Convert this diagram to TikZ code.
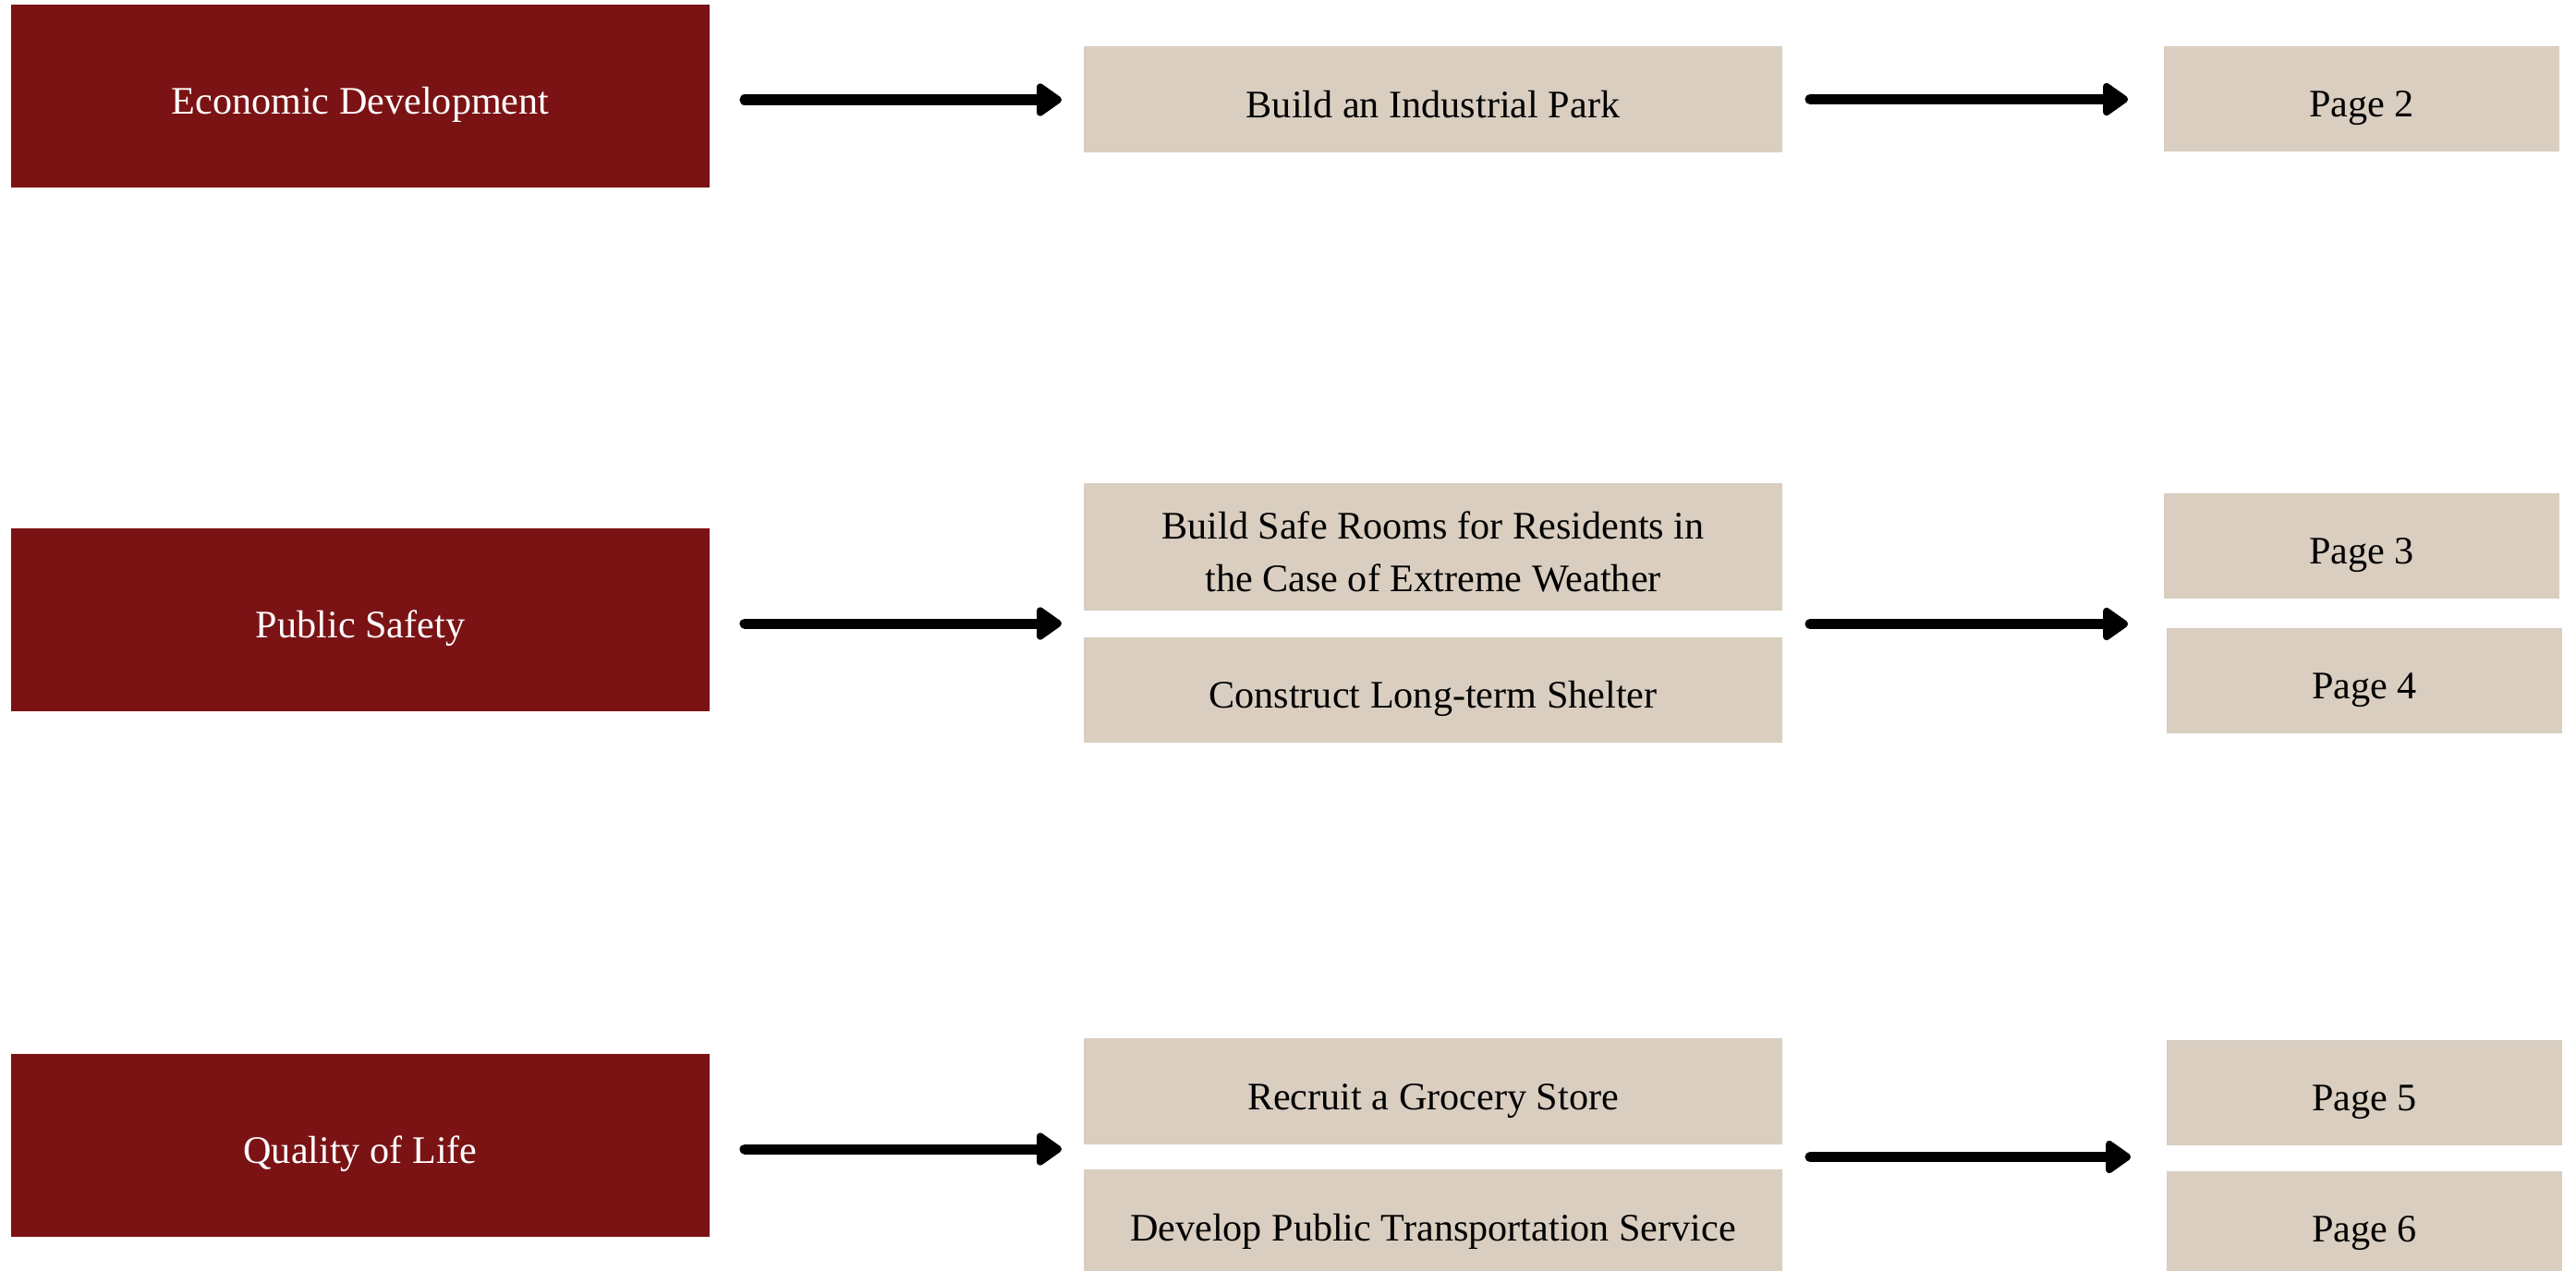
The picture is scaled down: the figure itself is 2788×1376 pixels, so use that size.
\documentclass[tikz,border=0pt]{standalone}
\usepackage{fontspec}
\setmainfont{Liberation Serif}
\usetikzlibrary{arrows.meta,calc}
\definecolor{goalred}{RGB}{123,19,21}
\definecolor{taskbeige}{RGB}{217,206,192}
\begin{document}
\begin{tikzpicture}[x=0.01cm,y=-0.01cm,
  box/.style={inner sep=0pt,text height=11.2pt,text depth=0pt,font=\fontsize{12}{16.2}\selectfont},
  goal/.style={box,fill=goalred,text=white,minimum width=7.56cm,minimum height=1.98cm},
  task/.style={box,fill=taskbeige,minimum width=7.56cm,align=center},
  pg/.style={box,fill=taskbeige,minimum width=4.28cm,minimum height=1.13cm},
  arr/.style={line width=0.11cm,line cap=round,-{Triangle[length=0.3cm,width=0.4cm,round]}}]
\useasboundingbox (0,0) rectangle (2788,1376);
\node[goal](eco) at (390,104) {Economic Development};
\node[goal](safety) at (390,671) {Public Safety};
\node[goal](life) at (390,1240) {Quality of Life};
\node[task,minimum height=1.15cm](park) at (1551,107.5) {Build an Industrial Park};
\node[task,minimum height=1.38cm,text height=27.4pt](rooms) at (1551,592) {Build Safe Rooms for Residents in\\the Case of Extreme Weather};
\node[task,minimum height=1.14cm](shelter) at (1551,747) {Construct Long-term Shelter};
\node[task,minimum height=1.15cm](grocery) at (1551,1181.5) {Recruit a Grocery Store};
\node[task,minimum height=1.15cm](transit) at (1551,1323.5) {Develop Public Transportation Service};
\node[pg](p2) at (2556,107) {Page 2};
\node[pg](p3) at (2556,591) {Page 3};
\node[pg](p4) at (2559,737) {Page 4};
\node[pg](p5) at (2559,1183) {Page 5};
\node[pg](p6) at (2559,1325) {Page 6};
\coordinate(parkout) at (park.east);
\coordinate(safeout) at ($(rooms.south east)!0.5!(shelter.north east)$);
\coordinate(lifeout) at ($(grocery.south east)!0.5!(transit.north east)$);
\foreach \a/\b in {eco/park,safety/rooms,life/grocery}{\draw[arr,shorten <=0.37cm,shorten >=0.23cm]([yshift=-0.04cm]\a.east)--([yshift=-0.04cm]\a.east -| \b.west);}
\foreach \a/\b in {parkout/p2,safeout/p3,lifeout/p5}{\draw[arr,shorten <=0.29cm,shorten >=0.38cm](\a)--(\a -| \b.west);}
\end{tikzpicture}
\end{document}
